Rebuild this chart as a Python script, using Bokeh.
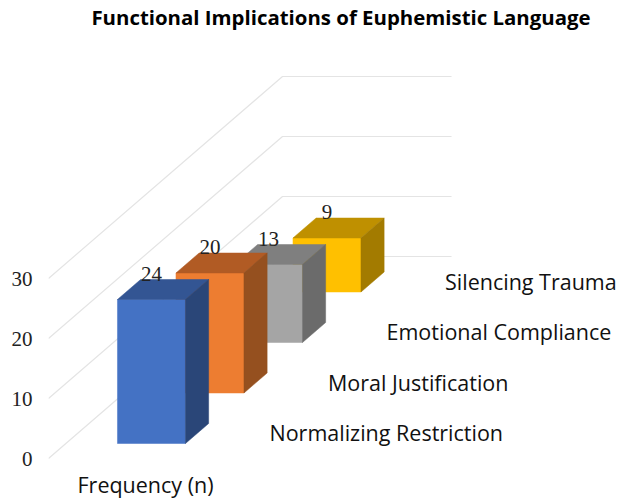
from bokeh.plotting import figure
from bokeh.embed import file_html
from bokeh.resources import INLINE
from bokeh.models import Range1d, FixedTicker
from bokeh.core.properties import value

title_text = "Functional Implications of Euphemistic Language"
categories = ["Normalizing Restriction", "Moral Justification", "Emotional Compliance", "Silencing Trauma"]
frequency = [24, 20, 13, 9]
axis_ticks = [0, 10, 20, 30]
series_name = "Frequency (n)"
front_colors = ["#4472C4", "#ED7D31", "#A5A5A5", "#FFC000"]
top_colors = ["#335593", "#B15B24", "#7F7F7F", "#BF9000"]
side_colors = ["#2A4678", "#95501F", "#6B6B6B", "#A37B00"]

# oblique projection: floor width X (px), depth Z (category units), height v (value units)
PX_PER_UNIT = 6.0
DEPTH_DX = 58.5
DEPTH_DY = 50.5 / PX_PER_UNIT
FLOOR_W = 169.0
BAR_X0, BAR_W = 51.6, 68.0
BAR_Z0, BAR_D = 0.297, 0.396

def proj(X, Z, v):
    return X + DEPTH_DX * Z, v + DEPTH_DY * Z

LEFT = 48
W, H = 617, 500
y0 = -42 / PX_PER_UNIT
p = figure(width=W, height=H, output_backend="svg", toolbar_location=None,
           x_range=Range1d(0, W - LEFT), y_range=Range1d(y0, y0 + H / PX_PER_UNIT),
           x_axis_location=None, min_border_left=LEFT, min_border_right=0,
           min_border_top=0, min_border_bottom=0, outline_line_color=None,
           background_fill_color="white", border_fill_color="white")
p.grid.visible = False

ax = p.yaxis[0]
ax.ticker = FixedTicker(ticks=axis_ticks)
ax.axis_line_color = None
ax.major_tick_line_color = None
ax.minor_tick_line_color = None
ax.major_label_standoff = 10
ax.major_label_text_font = "Liberation Serif"
ax.major_label_text_font_size = "21px"
ax.major_label_text_color = "#222222"

# gridlines: wall + floor run
n = len(categories)
for t in axis_ticks:
    pts = [proj(0, 0, t), proj(0, n, t), proj(FLOOR_W, n, t)]
    p.line([q[0] for q in pts], [q[1] for q in pts], line_color="#E4E4E4", line_width=1.2)

# bars, back to front
for i in range(n - 1, -1, -1):
    v = frequency[i]
    x0, x1 = BAR_X0, BAR_X0 + BAR_W
    z0, z1 = i + BAR_Z0, i + BAR_Z0 + BAR_D
    faces = [
        ([(x0, z0, 0), (x1, z0, 0), (x1, z0, v), (x0, z0, v)], front_colors[i]),
        ([(x0, z0, v), (x1, z0, v), (x1, z1, v), (x0, z1, v)], top_colors[i]),
        ([(x1, z0, 0), (x1, z1, 0), (x1, z1, v), (x1, z0, v)], side_colors[i]),
    ]
    for pts3, c in faces:
        pts = [proj(*q) for q in pts3]
        p.patch([q[0] for q in pts], [q[1] for q in pts], fill_color=c, line_color=c, line_width=0.5)

# value labels
lx, ly = zip(*[proj(BAR_X0 + BAR_W / 2, i + BAR_Z0, frequency[i]) for i in range(n)])
p.text(list(lx), list(ly), text=[str(v) for v in frequency], text_font=value("Liberation Serif"),
       text_font_size="21px", text_color="#222222", text_align="center", text_baseline="middle", y_offset=-26)

# category labels along the floor
cx, cy = zip(*[proj(221, i, 26 / PX_PER_UNIT) for i in range(n)])
p.text(list(cx), list(cy), text=categories, text_font=value("Open Sans"), text_font_size="21.5px",
       text_color="#111111", text_align="left", text_baseline="middle")

# series label
sx, sy = proj(29, 0, -26 / PX_PER_UNIT)
p.text([sx], [sy], text=[series_name], text_font=value("Open Sans"), text_font_size="21.5px",
       text_color="#111111", text_align="left", text_baseline="middle")

# chart title
p.text([292.5], [(458 - 16) / PX_PER_UNIT], text=[title_text], text_font=value("Open Sans"), text_font_size="20.4px",
       text_font_style="bold", text_color="#000000", text_align="center", text_baseline="middle")

open("out.html", "w").write(file_html(p, INLINE))
